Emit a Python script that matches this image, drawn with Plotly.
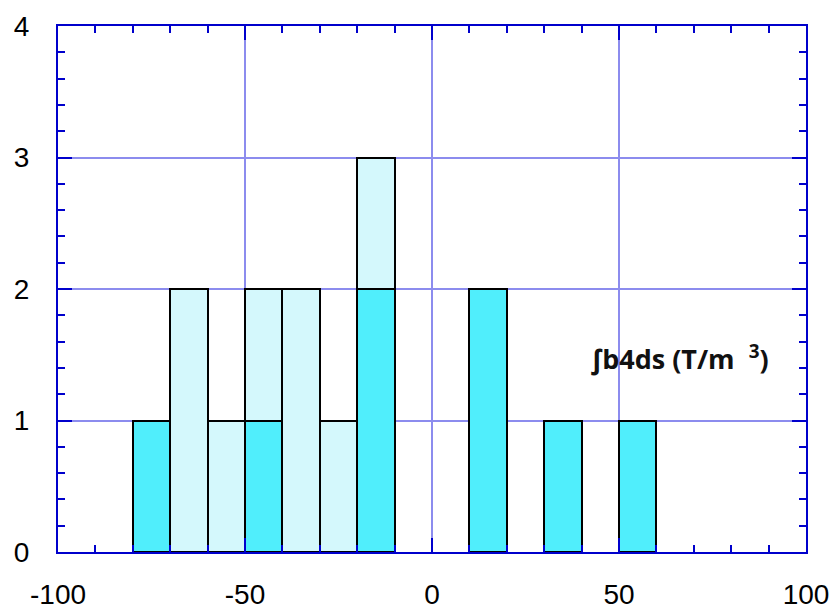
import plotly.graph_objects as go

bin_centers = [-75, -65, -55, -45, -35, -25, -15, 15, 35, 55]
dark_counts = [1, 0, 0, 1, 0, 0, 2, 2, 1, 1]
light_counts = [0, 2, 1, 1, 2, 1, 1, 0, 0, 0]
x_ticks = [-100, -50, 0, 50, 100]
x_tick_labels = ["-100", "-50", "0", "50", "100"]
y_ticks = [0, 1, 2, 3, 4]

axis_blue = "#0000CC"
grid_blue = "#8C8CEE"

fig = go.Figure()
fig.add_trace(go.Bar(x=bin_centers, y=dark_counts, width=10,
                     marker=dict(color="#50EEFC", line=dict(color="black", width=2))))
fig.add_trace(go.Bar(x=bin_centers, y=light_counts, width=10,
                     marker=dict(color="#D4F8FC", line=dict(color="black", width=2))))

fig.update_layout(
    barmode="stack", showlegend=False,
    width=838, height=614,
    margin=dict(l=50, r=40, t=18, b=70),
    plot_bgcolor="white", paper_bgcolor="white",
    font=dict(family="Liberation Sans, Arial", size=28, color="black"),
)
fig.update_xaxes(range=[-100, 100], tickvals=x_ticks, ticktext=x_tick_labels, ticks="inside", ticklen=14, tickwidth=2,
                 tickcolor=axis_blue, showline=True, linecolor=axis_blue, linewidth=2,
                 mirror="ticks", showgrid=True, gridcolor=grid_blue, gridwidth=2,
                 zeroline=False, ticklabelstandoff=16, automargin=False,
                 minor=dict(dtick=10, ticks="inside", ticklen=7, tickwidth=2, tickcolor=axis_blue, showgrid=False))
fig.update_yaxes(range=[0, 4], tickvals=y_ticks, ticks="inside", ticklen=14, tickwidth=2,
                 tickcolor=axis_blue, showline=True, linecolor=axis_blue, linewidth=2,
                 mirror="ticks", showgrid=True, gridcolor=grid_blue, gridwidth=2,
                 zeroline=False, ticklabelstandoff=21, automargin=False,
                 minor=dict(dtick=0.2, ticks="inside", ticklen=7, tickwidth=2, tickcolor=axis_blue, showgrid=False))

fig.add_annotation(x=0.71, y=0.37, xref="paper", yref="paper", xanchor="left", yanchor="middle",
                   text="<b>∫b4ds (T/m  <sup>3</sup>)</b>", showarrow=False,
                   font=dict(family="Open Sans", size=27, color="#111111"))

fig.write_html("out.html")
